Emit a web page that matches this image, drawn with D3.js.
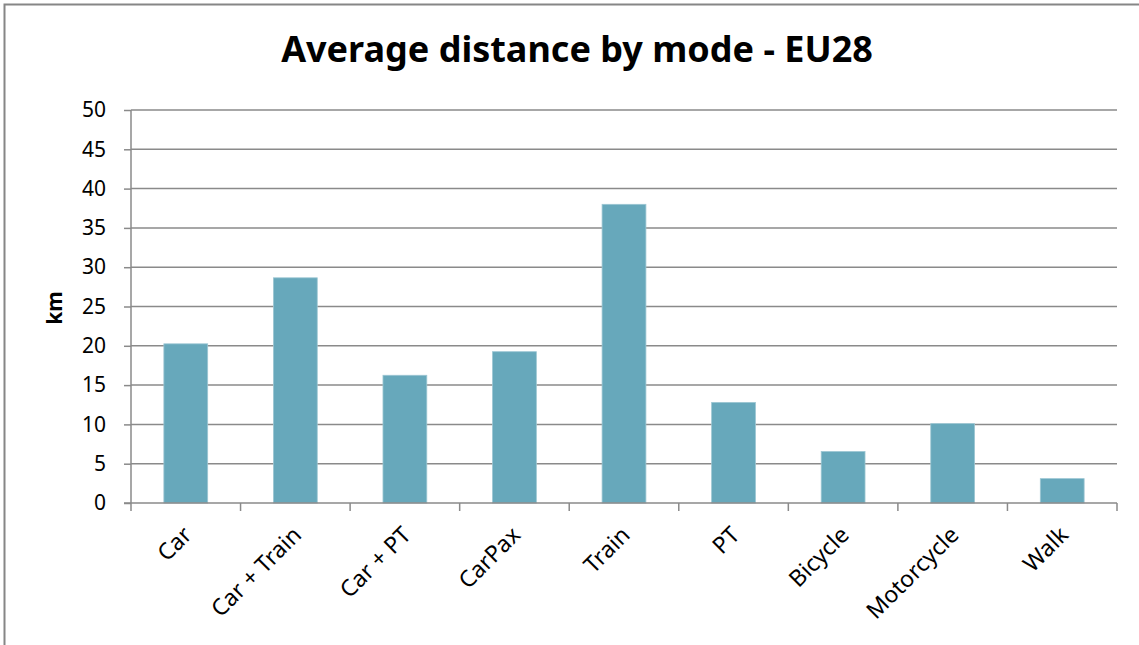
<!DOCTYPE html>
<html>
<head>
<meta charset="utf-8">
<script src="https://d3js.org/d3.v7.min.js"></script>
<style>
  body { margin: 0; background: white; }
</style>
</head>
<body>
<div id="viz_area"></div>
<script>
var width = 1139
var height = 645

var modes = ["Car", "Car + Train", "Car + PT", "CarPax", "Train", "PT", "Bicycle", "Motorcycle", "Walk"]
var distances = [20.25, 28.65, 16.25, 19.25, 38.0, 12.8, 6.55, 10.1, 3.1]
var yTicks = [0, 5, 10, 15, 20, 25, 30, 35, 40, 45, 50]

var margin = { top: 110, right: 22, bottom: 142, left: 131 }
var labelFont = "'Noto Sans', 'Open Sans', sans-serif"

var svg = d3.select("#viz_area")
  .append("svg")
  .attr("width", width)
  .attr("height", height)
  .style("background-color", "white")

// outer chart border
svg.append("rect")
  .attr("x", 4.5)
  .attr("y", 4.5)
  .attr("width", width + 10)
  .attr("height", height + 10)
  .attr("fill", "none")
  .attr("stroke", "#868686")
  .attr("stroke-width", 2)

var scX = d3.scaleBand()
  .domain(modes)
  .range([margin.left, width - margin.right])
  .paddingInner(0.6)
  .paddingOuter(0.3)

var scBand = d3.scaleBand()
  .domain(modes)
  .range([margin.left, width - margin.right])

var scY = d3.scaleLinear()
  .domain([0, 50])
  .range([height - margin.bottom, margin.top])

// horizontal grid
svg.append("g")
  .selectAll("line")
  .data(yTicks.filter(d => d > 0))
  .enter().append("line")
  .attr("x1", margin.left)
  .attr("x2", width - margin.right)
  .attr("y1", d => scY(d))
  .attr("y2", d => scY(d))
  .attr("stroke", "#8a8a8a")
  .attr("stroke-width", 1.5)

// bars
svg.append("g")
  .selectAll("rect")
  .data(modes)
  .enter().append("rect")
  .attr("x", d => scX(d))
  .attr("y", (d, i) => scY(distances[i]))
  .attr("width", scX.bandwidth())
  .attr("height", (d, i) => scY(0) - scY(distances[i]))
  .attr("fill", "#67a8bb")
  .attr("stroke", "#9cc6d3")
  .attr("stroke-width", 0.8)

// y axis
var yAxis = svg.append("g")
  .attr("transform", `translate(${margin.left},0)`)
  .call(d3.axisLeft(scY).tickValues(yTicks).tickSize(7).tickPadding(18))
yAxis.attr("font-family", null).attr("font-size", null)
yAxis.select(".domain").attr("stroke", "#8a8a8a").attr("stroke-width", 1.5)
  .attr("d", `M0,${scY(50)}V${scY(0)}`)
yAxis.selectAll(".tick line").attr("stroke", "#8a8a8a").attr("stroke-width", 1.5)
yAxis.selectAll("text")
  .style("font-family", labelFont)
  .style("font-size", "21px")
  .attr("fill", "#000")

// x axis
var xAxis = svg.append("g")
  .attr("transform", `translate(0,${scY(0)})`)
xAxis.append("line")
  .attr("x1", margin.left - 7)
  .attr("x2", width - margin.right)
  .attr("stroke", "#8a8a8a")
  .attr("stroke-width", 1.5)
xAxis.selectAll(".xtick")
  .data(modes.concat(["end"]))
  .enter().append("line")
  .attr("x1", (d, i) => i < modes.length ? scBand(d) : width - margin.right)
  .attr("x2", (d, i) => i < modes.length ? scBand(d) : width - margin.right)
  .attr("y1", 0)
  .attr("y2", 8)
  .attr("stroke", "#8a8a8a")
  .attr("stroke-width", 1.5)
xAxis.selectAll("text")
  .data(modes)
  .enter().append("text")
  .attr("transform", d => `translate(${scBand(d) + scBand.bandwidth() / 2 - 4},22) rotate(-45)`)
  .attr("text-anchor", "end")
  .attr("dy", "0.7em")
  .style("font-family", labelFont)
  .style("font-size", "23px")
  .attr("fill", "#000")
  .text(d => d)

// y label
svg.append("text")
  .attr("transform", `translate(62,308) rotate(-90)`)
  .attr("text-anchor", "middle")
  .style("font-family", labelFont)
  .style("font-weight", "bold")
  .style("font-size", "21px")
  .text("km")

// title
svg.append("text")
  .attr("x", 577)
  .attr("y", 62)
  .attr("text-anchor", "middle")
  .style("font-family", labelFont)
  .style("font-weight", "bold")
  .style("font-size", "36px")
  .text("Average distance by mode - EU28")
</script>
</body>
</html>
